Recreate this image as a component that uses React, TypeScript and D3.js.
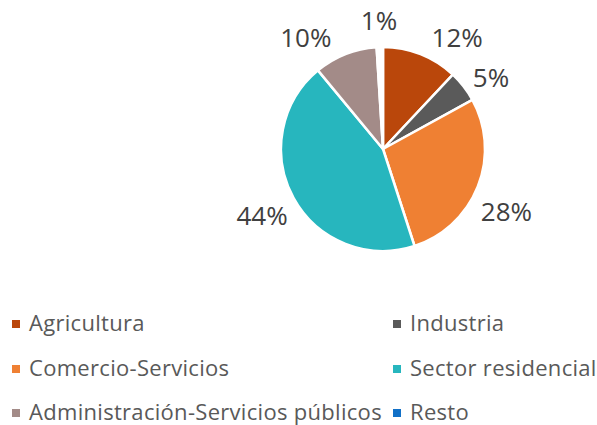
import React from "react";
import * as d3 from "d3";

const categories = [
  "Agricultura",
  "Industria",
  "Comercio-Servicios",
  "Sector residencial",
  "Administración-Servicios públicos",
  "Resto",
];
const values = [12, 5, 28, 44, 10, 1];
const colors = ["#BA470B", "#5A5A5A", "#EF8033", "#27B6BE", "#A38B88", "#1170C7"];
// slices drawn without fill in the pie (as in the reference)
const noFillInPie = [false, false, false, false, false, true];
// label layout: angle nudges (degrees) and radii spreading crowded labels, like the original
const labelNudgeDeg = [12, 4, 5, 0, -13, 0];
const labelRadius = [134, 130, 138, 138, 136, 129];

const W = 597;
const H = 425;
const cx = 383;
const cy = 149;
const R = 102;

export default function App() {
  const pie = d3
    .pie<number>()
    .sort(null)
    .value((d) => d);
  const arcs = pie(values);
  const arcGen = d3.arc<d3.PieArcDatum<number>>().innerRadius(0).outerRadius(R);
  const total = d3.sum(values);

  const legendCols = [12, 393];
  const legendRows = [331, 376, 420];

  return (
    <svg
      width={W}
      height={H}
      style={{ position: "absolute", left: 0, top: 0, background: "#fff" }}
      fontFamily="'Open Sans', sans-serif"
    >
      <g transform={`translate(${cx},${cy})`}>
        {arcs.map((a, i) => (
          <path
            key={i}
            d={arcGen(a) || ""}
            fill={noFillInPie[i] ? "#ffffff" : colors[i]}
            stroke="#ffffff"
            strokeWidth={2.5}
            strokeLinejoin="round"
          />
        ))}
        {arcs.map((a, i) => {
          const mid = (a.startAngle + a.endAngle) / 2 + (labelNudgeDeg[i] * Math.PI) / 180;
          const x = labelRadius[i] * Math.sin(mid);
          const y = -labelRadius[i] * Math.cos(mid);
          return (
            <text
              key={i}
              x={x}
              y={y}
              textAnchor="middle"
              dominantBaseline="central"
              fontSize={26}
              fill="#404040"
            >
              {`${Math.round((values[i] / total) * 100)}%`}
            </text>
          );
        })}
      </g>
      {categories.map((c, i) => {
        const col = i % 2;
        const row = Math.floor(i / 2);
        const x = legendCols[col];
        const y = legendRows[row];
        return (
          <g key={c}>
            <rect x={x} y={y - 11} width={8} height={8} fill={colors[i]} />
            <text x={x + 17} y={y} fontSize={22} letterSpacing={0.3} fill="#595959">
              {c}
            </text>
          </g>
        );
      })}
    </svg>
  );
}
